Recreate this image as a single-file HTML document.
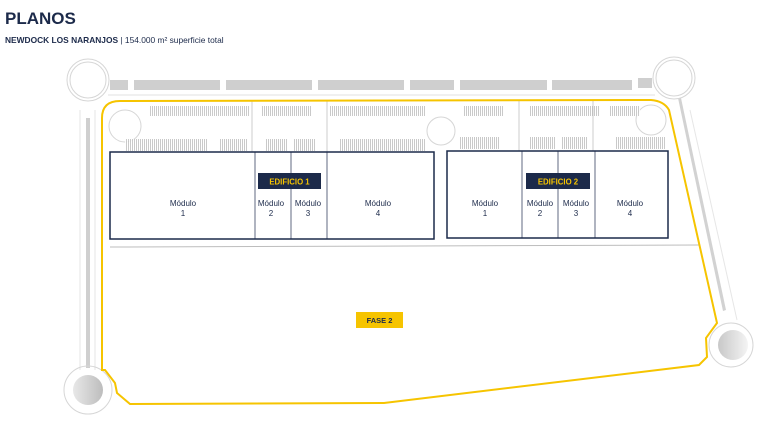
<!DOCTYPE html>
<html><head><meta charset="utf-8"><style>
html,body{margin:0;padding:0;background:#fff;width:768px;height:424px;overflow:hidden}
svg{display:block}
</style></head><body>
<svg width="768" height="424" viewBox="0 0 768 424" xmlns="http://www.w3.org/2000/svg" font-family="Liberation Sans, sans-serif">
<defs>
<pattern id="pk" width="2" height="10" patternUnits="userSpaceOnUse"><rect width="2" height="10" fill="#fff"/><rect width="1" height="10" fill="#c4c4c4"/></pattern>
<linearGradient id="cg" x1="0" x2="1"><stop offset="0" stop-color="#e8e8e8"/><stop offset="1" stop-color="#bdbdbd"/></linearGradient>
<linearGradient id="cg2" x1="0" x2="1"><stop offset="0" stop-color="#c8c8c8"/><stop offset="1" stop-color="#f4f4f4"/></linearGradient>
</defs>
<text x="5" y="24" font-size="17" font-weight="bold" fill="#1c2a4a">PLANOS</text>
<text x="5" y="43" font-size="8.4" fill="#1c2a4a"><tspan font-weight="bold">NEWDOCK LOS NARANJOS</tspan> | 154.000 m² superficie total</text>

<g fill="#cfcfcf">
<rect x="110" y="80" width="18" height="10"/><rect x="134" y="80" width="86" height="10"/><rect x="226" y="80" width="86" height="10"/><rect x="318" y="80" width="86" height="10"/>
<rect x="410" y="80" width="44" height="10"/><rect x="460" y="80" width="87" height="10"/><rect x="552" y="80" width="80" height="10"/><rect x="638" y="78" width="14" height="10"/>
<rect x="86" y="118" width="4" height="250"/>
</g>
<line x1="108" y1="95" x2="655" y2="95" stroke="#e2e2e2"/>
<line x1="80" y1="110" x2="80" y2="370" stroke="#e6e6e6"/>
<line x1="95" y1="110" x2="95" y2="370" stroke="#e6e6e6"/>
<polygon points="678,98 681,98 726,310 723,311" fill="#d2d2d2"/>
<line x1="690" y1="110" x2="737" y2="320" stroke="#e6e6e6"/>
<g fill="none" stroke="#d6d6d6">
<circle cx="88" cy="80" r="21"/><circle cx="88" cy="80" r="18"/>
<circle cx="674" cy="78" r="21"/><circle cx="674" cy="78" r="18"/>
<circle cx="88" cy="390" r="24"/><circle cx="731" cy="345" r="22"/>
<circle cx="125" cy="126" r="16"/><circle cx="441" cy="131" r="14"/><circle cx="651" cy="120" r="15"/>
</g>
<circle cx="88" cy="390" r="15" fill="url(#cg)"/>
<circle cx="733" cy="345" r="15" fill="url(#cg2)"/>

<g fill="url(#pk)" opacity="0.9">
<rect x="150" y="106" width="100" height="10"/><rect x="262" y="106" width="50" height="10"/><rect x="330" y="106" width="95" height="10"/>
<rect x="464" y="106" width="40" height="10"/><rect x="530" y="106" width="70" height="10"/><rect x="610" y="106" width="30" height="10"/>
<rect x="125" y="139" width="82" height="12"/><rect x="220" y="139" width="28" height="12"/><rect x="266" y="139" width="22" height="12"/><rect x="294" y="139" width="22" height="12"/><rect x="340" y="139" width="85" height="12"/>
<rect x="460" y="137" width="40" height="12"/><rect x="530" y="137" width="25" height="12"/><rect x="562" y="137" width="25" height="12"/><rect x="615" y="137" width="50" height="12"/>
</g>
<line x1="110" y1="247" x2="700" y2="245" stroke="#bdbdbd"/>
<line x1="252" y1="100" x2="252" y2="152" stroke="#aaa" stroke-width="0.6"/>
<line x1="327" y1="100" x2="327" y2="152" stroke="#aaa" stroke-width="0.6"/>
<line x1="519" y1="100" x2="519" y2="151" stroke="#aaa" stroke-width="0.6"/>
<line x1="593" y1="100" x2="593" y2="151" stroke="#aaa" stroke-width="0.6"/>

<path d="M102 370 L102 118 Q102 101 120 101 L651 100 Q664 101 669 110 L717 323 L706 338 L707 357 L699 365 L384 403 L130 404 L117 393 L115 383 L105 370 Z" fill="none" stroke="#f6c400" stroke-width="2"/>

<g fill="#fff" stroke="#1c2a4a" stroke-width="1.5">
<rect x="110" y="152" width="324" height="87"/>
<rect x="447" y="151" width="221" height="87"/>
</g>
<g stroke="#1c2a4a" stroke-width="0.7">
<line x1="255" y1="152" x2="255" y2="239"/><line x1="291" y1="152" x2="291" y2="239"/><line x1="327" y1="152" x2="327" y2="239"/>
<line x1="522" y1="151" x2="522" y2="238"/><line x1="558" y1="151" x2="558" y2="238"/><line x1="595" y1="151" x2="595" y2="238"/>
</g>
<rect x="258" y="173" width="63" height="16" fill="#1c2a4a"/>
<text x="289.5" y="184.5" font-size="7.8" font-weight="bold" fill="#f6c400" text-anchor="middle">EDIFICIO 1</text>
<rect x="526" y="173" width="64" height="16" fill="#1c2a4a"/>
<text x="558" y="184.5" font-size="7.8" font-weight="bold" fill="#f6c400" text-anchor="middle">EDIFICIO 2</text>
<g font-size="8" fill="#1c2a4a" text-anchor="middle">
<text x="183" y="206">Módulo</text><text x="183" y="216">1</text>
<text x="271" y="206">Módulo</text><text x="271" y="216">2</text>
<text x="308" y="206">Módulo</text><text x="308" y="216">3</text>
<text x="378" y="206">Módulo</text><text x="378" y="216">4</text>
<text x="485" y="206">Módulo</text><text x="485" y="216">1</text>
<text x="540" y="206">Módulo</text><text x="540" y="216">2</text>
<text x="576" y="206">Módulo</text><text x="576" y="216">3</text>
<text x="630" y="206">Módulo</text><text x="630" y="216">4</text>
</g>
<rect x="356" y="312" width="47" height="16" fill="#f6c400"/>
<text x="379.5" y="323" font-size="7.5" font-weight="bold" fill="#1c2a4a" text-anchor="middle">FASE 2</text>
</svg>
</body></html>
